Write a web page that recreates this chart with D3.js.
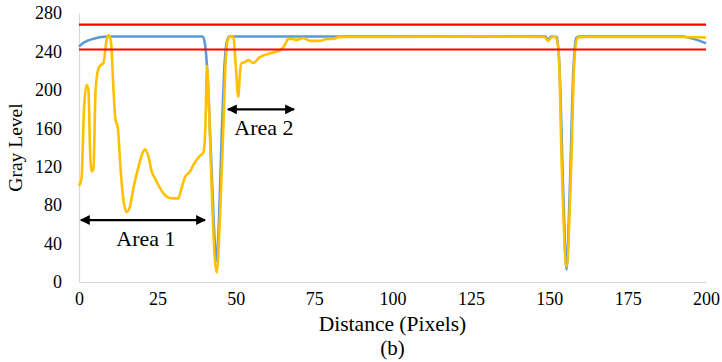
<!DOCTYPE html>
<html>
<head>
<meta charset="utf-8">
<script src="https://cdn.jsdelivr.net/npm/d3@7"></script>
<style>
  body { margin: 0; background: #fff; }
  svg text { font-family: "Liberation Serif", Tinos, "DejaVu Serif", serif; fill: #000; }
</style>
</head>
<body>
<div id="chart"></div>
<script>
// distance (pixels) and gray level of the reference profile (blue)
const blueX = [0, 1, 3, 5, 7, 9, 39.5, 40.3, 41, 42, 43, 43.8, 44.6, 45.5, 46.5, 47.3, 48, 80, 148.8, 149.7, 150.6, 152.5, 153.3, 154.5, 155.5, 156.5, 157.7, 158.6, 159.5, 192, 195, 198, 200];
const blueY = [245, 248, 251.5, 253.5, 255, 255.5, 255.5, 245, 215, 140, 60, 22, 60, 150, 230, 252, 255.5, 255.5, 255.5, 252, 255.5, 255, 220, 90, 13, 90, 220, 254, 255.5, 255.5, 254, 251, 248.5];

// measured profile (yellow)
const yellowX = [0, 0.8, 1.6, 2.4, 3, 3.6, 4, 4.6, 5.3, 6.2, 7, 7.8, 8.8, 9.5, 10.2, 11, 11.6, 12.4, 13.2, 14, 15.2, 16.2, 17.5, 19, 20, 21.1, 22.2, 23.2, 24.2, 25.8, 27, 28.5, 30, 31.7, 32.5, 33.8, 35.4, 36.5, 37.5, 38.5, 39.7, 40.3, 40.8, 41.5, 42.5, 43.9, 45, 46, 46.8, 47.6, 48.5, 49.3, 50, 50.8, 51.4, 51.9, 53, 54, 55.6, 57.7, 59.9, 62, 64.1, 65.5, 66.8, 68, 69.4, 71.5, 73.7, 76.9, 79, 81, 83, 100, 125, 148.5, 149.7, 150.8, 152, 153, 154, 155.5, 157, 158, 159, 160, 190, 200];
const yellowY = [100, 108, 180, 205, 200, 130, 115, 118, 200, 222, 226, 228, 252, 257, 250, 200, 170, 160, 120, 90, 73, 78, 100, 120, 132, 138, 130, 115, 108, 98, 92, 88, 87, 87, 95, 109, 115, 122, 127, 131, 135, 160, 225, 180, 80, 10, 70, 157, 230, 253, 256, 254, 225, 193, 220, 228, 229, 231, 228, 234, 237, 239, 241, 246, 253, 253, 252, 254, 251, 251, 253, 253, 255, 255, 255.5, 255, 251, 255, 255, 240, 120, 16, 120, 230, 254, 255, 255, 254.5];

// threshold levels (red)
const thresholds = [268, 242];

const xTicks = [0, 25, 50, 75, 100, 125, 150, 175, 200];
const yTicks = [0, 40, 80, 120, 160, 200, 240, 280];

// annotations: arrow start/end in data units, label
const areaLabels = ["Area 1", "Area 2"];
const areaFrom = [0.6, 47.5];
const areaTo = [40.2, 68.6];
const areaLevel = [64.5, 179.7];

const serif = '"Liberation Serif", Tinos, "DejaVu Serif", serif';
const width = 722, height = 362;
const margin = { top: 13, right: 16, bottom: 80, left: 79 };
const innerW = width - margin.left - margin.right;
const innerH = height - margin.top - margin.bottom;

const svg = d3.select('#chart')
  .append('svg')
  .attr('width', width)
  .attr('height', height);

// arrow head, reversed automatically at the start of the line
svg.append('defs').append('marker')
  .attr('id', 'arrow')
  .attr('viewBox', '0 0 10 10')
  .attr('refX', 9)
  .attr('refY', 5)
  .attr('markerWidth', 5)
  .attr('markerHeight', 4.5)
  .attr('orient', 'auto-start-reverse')
  .append('path')
  .attr('d', 'M0,0 L10,5 L0,10 z')
  .attr('fill', '#000');

const g = svg.append('g')
  .attr('transform', `translate(${margin.left},${margin.top})`);

const x = d3.scaleLinear().domain([0, 200]).range([0, innerW]);
const y = d3.scaleLinear().domain([0, 280]).range([innerH, 0]);

// axes: light grey lines, no tick marks
const xAxis = g.append('g')
  .attr('transform', `translate(0,${innerH})`)
  .call(d3.axisBottom(x).tickValues(xTicks).tickSize(0).tickPadding(10));
const yAxis = g.append('g')
  .call(d3.axisLeft(y).tickValues(yTicks).tickSize(0).tickPadding(17));

[xAxis, yAxis].forEach(a => {
  a.attr('font-family', serif).attr('font-size', 18);
  a.select('.domain').attr('stroke', '#d9d9d9').attr('stroke-width', 1.2);
  a.selectAll('text').attr('fill', '#000');
});

const line = d3.line()
  .x(d => x(d[0]))
  .y(d => y(d[1]))
  .curve(d3.curveMonotoneX);

g.append('path')
  .datum(blueX.map((v, i) => [v, blueY[i]]))
  .attr('fill', 'none')
  .attr('stroke', '#5b9bd5')
  .attr('stroke-width', 2.6)
  .attr('d', line);

g.append('path')
  .datum(yellowX.map((v, i) => [v, yellowY[i]]))
  .attr('fill', 'none')
  .attr('stroke', '#ffc000')
  .attr('stroke-width', 2.6)
  .attr('d', line);

g.selectAll('.threshold')
  .data(thresholds)
  .enter()
  .append('line')
  .attr('class', 'threshold')
  .attr('x1', x(0))
  .attr('x2', x(200))
  .attr('y1', d => y(d))
  .attr('y2', d => y(d))
  .attr('stroke', '#ff0000')
  .attr('stroke-width', 2.2);

// double-headed arrows with labels
areaLabels.forEach((label, i) => {
  g.append('line')
    .attr('x1', x(areaFrom[i]))
    .attr('x2', x(areaTo[i]))
    .attr('y1', y(areaLevel[i]))
    .attr('y2', y(areaLevel[i]))
    .attr('stroke', '#000')
    .attr('stroke-width', 2.2)
    .attr('marker-start', 'url(#arrow)')
    .attr('marker-end', 'url(#arrow)');

  g.append('text')
    .attr('x', (x(areaFrom[i]) + x(areaTo[i])) / 2 + 3)
    .attr('y', y(areaLevel[i]) + 26)
    .attr('text-anchor', 'middle')
    .style('font-size', '22px')
    .text(label);
});

// axis titles
svg.append('text')
  .attr('x', margin.left + innerW / 2)
  .attr('y', 331)
  .attr('text-anchor', 'middle')
  .style('font-size', '21.5px')
  .text('Distance (Pixels)');

svg.append('text')
  .attr('x', margin.left + innerW / 2)
  .attr('y', 355)
  .attr('text-anchor', 'middle')
  .style('font-size', '21px')
  .text('(b)');

svg.append('text')
  .attr('transform', `translate(22,${margin.top + innerH / 2}) rotate(-90)`)
  .attr('text-anchor', 'middle')
  .style('font-size', '19.5px')
  .text('Gray Level');
</script>
</body>
</html>
